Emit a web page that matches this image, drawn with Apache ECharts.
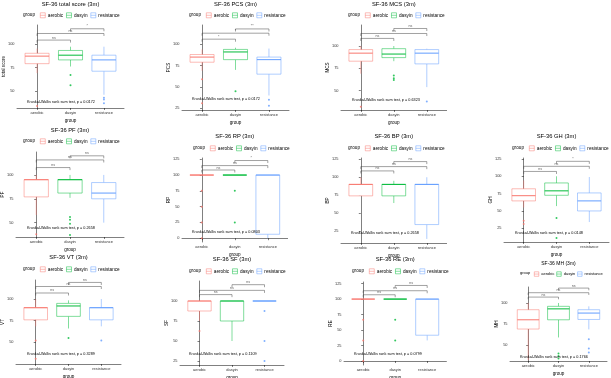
<!DOCTYPE html>
<html>
<head>
<meta charset="utf-8">
<script src="https://cdn.jsdelivr.net/npm/echarts@6/dist/echarts.min.js"></script>
<style>
html, body { margin: 0; padding: 0; background: #fff; }
#chart { width: 611px; height: 378px; }
</style>
</head>
<body>
<div id="chart"></div>
<script>
const groups = ['aerobic', 'dasyin', 'resistance'];
const groupColors = ['#F8766D', '#00BA38', '#619CFF'];
const titles = ['SF-36 total score (3m)', 'SF-36 PCS (3m)', 'SF-36 MCS (3m)',
  'SF-36 PF (3m)', 'SF-36 RP (3m)', 'SF-36 BP (3m)', 'SF-36 GH (3m)',
  'SF-36 VT (3m)', 'SF-36 SF (3m)', 'SF-36 RE (3m)', 'SF-36 MH (3m)'];
const yNames = ['total score', 'PCS', 'MCS', 'PF', 'RP', 'BP', 'GH', 'VT', 'SF', 'RE', 'MH'];
const pValues = ['0.0172', '0.0172', '0.6323', '0.2658', '0.0803', '0.2658', '0.0148', '0.3289', '0.1109', '0.0799', '0.1766'];

// box = [min, Q1, median, Q3, max] per group; out = [group, value]; brk = [from, to, y, label]
const boxTotal = [[69, 79, 87, 90, 95], [76, 83, 88, 93, 97], [46, 71, 83, 88, 97]];
const outTotal = [[0, 34], [1, 67], [1, 56], [2, 43], [2, 41], [2, 37]];
const brkTotal = [[0, 1, 104, 'ns'], [0, 2, 111, 'ns'], [1, 2, 116, '*']];
const ticksTotal = [50, 75, 100];
const rangeTotal = [32, 120];

const boxPCS = [[69, 79, 85, 88, 94], [70, 82, 91, 94, 96], [40, 65, 82, 85, 95]];
const outPCS = [[0, 59], [0, 31], [1, 45], [2, 35], [2, 28]];
const brkPCS = [[0, 1, 106, '*'], [0, 2, 113, '*'], [1, 2, 118, '**']];
const ticksPCS = [25, 50, 75, 100];
const rangePCS = [23, 122.6];

const boxMCS = [[69, 83, 92, 96, 100], [83, 87, 91, 97, 100], [54, 80, 92, 96, 97]];
const outMCS = [[0, 32], [1, 67], [1, 64], [1, 62], [2, 38]];
const brkMCS = [[0, 1, 108.5, 'ns'], [0, 2, 114, 'ns'], [1, 2, 119.6, 'ns']];
const ticksMCS = [50, 75, 100];
const rangeMCS = [28.4, 123.5];

const boxPF = [[58, 77, 95, 95, 100], [76, 81, 95, 95, 100], [50, 75, 81, 92, 100]];
const outPF = [[0, 38], [1, 56], [1, 53], [1, 49], [1, 37]];
const brkPF = [[0, 1, 107.7, 'ns'], [0, 2, 115.7, 'ns'], [1, 2, 120, 'ns']];
const ticksPF = [50, 75, 100];
const rangePF = [35, 124];

const boxRP = [[100, 100, 100, 100, 100], [100, 100, 100, 100, 100], [0, 6.25, 100, 100, 100]];
const outRP = [[0, 75], [0, 50], [0, 25], [0, 0], [1, 75], [1, 25]];
const brkRP = [[0, 1, 108, 'ns'], [0, 2, 115, 'ns'], [1, 2, 123, '*']];
const ticksRP = [0, 25, 50, 75, 100, 125];
const rangeRP = [-6, 127];

const boxBP = [[74, 74, 90, 90, 100], [64, 74, 90, 90, 95], [14, 34, 90, 90, 100]];
const outBP = [];
const brkBP = [[0, 1, 108.8, 'ns'], [0, 2, 114.8, 'ns'], [1, 2, 121.8, 'ns']];
const ticksBP = [25, 50, 75, 100, 125];
const rangeBP = [8.3, 126.8];

const boxGH = [[55, 64.5, 72, 82, 94], [57, 72.6, 79, 90.4, 100], [34, 50, 64.5, 76, 99]];
const outGH = [[0, 36], [0, 31], [1, 40], [1, 11]];
const brkGH = [[0, 1, 107, 'ns'], [0, 2, 114.4, 'ns'], [1, 2, 121.6, '*']];
const ticksGH = [25, 50, 75, 100, 125];
const rangeGH = [5.2, 126.4];

const boxVT = [[68.5, 76, 90, 90, 100], [66, 80, 92, 95, 98.5], [68.5, 76, 90, 90, 100]];
const outVT = [[0, 52], [0, 31], [1, 55], [2, 52]];
const brkVT = [[0, 1, 107, 'ns'], [0, 2, 114.5, 'ns'], [1, 2, 119.2, 'ns']];
const ticksVT = [50, 75, 100];
const rangeVT = [25, 122];

const boxSF = [[75, 87.5, 100, 100, 100], [50, 75, 100, 100, 100], [100, 100, 100, 100, 100]];
const outSF = [[0, 62.5], [2, 87.5], [2, 50], [2, 25]];
const brkSF = [[0, 1, 108, 'ns'], [0, 2, 113.3, 'ns'], [1, 2, 120.4, 'ns']];
const ticksSF = [25, 50, 75, 100];
const rangeSF = [20, 125];

const boxRE = [[100, 100, 100, 100, 100], [100, 100, 100, 100, 100], [33.33, 41.67, 100, 100, 100]];
const outRE = [[0, 66.67], [0, 33.33], [0, 0], [1, 66.67], [1, 33.33]];
const brkRE = [[0, 1, 107, 'ns'], [0, 2, 113.5, 'ns'], [1, 2, 122, 'ns']];
const ticksRE = [0, 25, 50, 75, 100, 125];
const rangeRE = [-6.4, 127.6];

const boxMH = [[32, 69, 80, 92, 100], [59, 80, 93, 96, 100], [68.6, 80.4, 88, 92, 96]];
const outMH = [[1, 40], [1, 37], [1, 34], [2, 57], [2, 46], [2, 41]];
const brkMH = [[0, 1, 107, 'ns'], [0, 2, 112.2, 'ns'], [1, 2, 117.7, 'ns']];
const ticksMH = [50, 75, 100];
const rangeMH = [31, 119];

const panels = [
  [boxTotal, outTotal, brkTotal, ticksTotal, rangeTotal],
  [boxPCS, outPCS, brkPCS, ticksPCS, rangePCS],
  [boxMCS, outMCS, brkMCS, ticksMCS, rangeMCS],
  [boxPF, outPF, brkPF, ticksPF, rangePF],
  [boxRP, outRP, brkRP, ticksRP, rangeRP],
  [boxBP, outBP, brkBP, ticksBP, rangeBP],
  [boxGH, outGH, brkGH, ticksGH, rangeGH],
  [boxVT, outVT, brkVT, ticksVT, rangeVT],
  [boxSF, outSF, brkSF, ticksSF, rangeSF],
  [boxRE, outRE, brkRE, ticksRE, rangeRE],
  [boxMH, outMH, brkMH, ticksMH, rangeMH]
];

// layout: plot box [left, top, width, height] and text anchors
const gridBoxes = [
  [17, 25, 107, 83], [182, 25, 107, 85], [341, 25, 105.6, 85],
  [16, 152, 108, 85], [182, 158, 105.6, 84], [341, 158, 105.6, 85], [504, 158, 105, 84],
  [16, 280, 105, 84], [180, 281, 104, 84], [344, 282, 102.4, 83], [510, 287, 97, 74]
];
const titleY = [4, 4, 4, 130, 136, 136, 136, 257, 259, 259, 264];
const legendY = [15, 15, 15, 141, 148, 148, 148, 269, 271, 271, 274];
const groupX = [23, 189, 348, 23, 193, 348, 512, 23, 189, 352, 520];
const kwPos = [[27, 102], [192, 99], [352, 100], [27, 228], [192, 232], [351, 233], [515, 233],
  [27, 354], [189, 354], [354, 354], [520, 357]];

const font = 'Liberation Sans, Arial, sans-serif';
const chart = echarts.init(document.getElementById('chart'));

function renderBox(params, api) {
  const x = api.value(0);
  const c = groupColors[x];
  const pMin = api.coord([x, api.value(1)]);
  const pQ1 = api.coord([x, api.value(2)]);
  const pMed = api.coord([x, api.value(3)]);
  const pQ3 = api.coord([x, api.value(4)]);
  const pMax = api.coord([x, api.value(5)]);
  const hw = api.size([0.72, 0])[0] / 2;
  return {
    type: 'group',
    children: [
      { type: 'line', shape: { x1: pMin[0], y1: pMin[1], x2: pQ1[0], y2: pQ1[1] }, style: { stroke: c, lineWidth: 0.5 } },
      { type: 'line', shape: { x1: pQ3[0], y1: pQ3[1], x2: pMax[0], y2: pMax[1] }, style: { stroke: c, lineWidth: 0.5 } },
      { type: 'rect', shape: { x: pQ3[0] - hw, y: pQ3[1], width: 2 * hw, height: pQ1[1] - pQ3[1] },
        style: { stroke: c, fill: '#fff', lineWidth: 0.5 } },
      { type: 'line', shape: { x1: pMed[0] - hw, y1: pMed[1], x2: pMed[0] + hw, y2: pMed[1] }, style: { stroke: c, lineWidth: 1 } }
    ]
  };
}

const option = {
  animation: false,
  backgroundColor: '#fff',
  title: [], legend: [], grid: [], xAxis: [], yAxis: [], series: []
};

// legend-only series
groups.forEach((g, i) => {
  option.series.push({
    type: 'scatter', name: g, data: [], xAxisIndex: 0, yAxisIndex: 0,
    itemStyle: { color: '#fff', borderColor: groupColors[i], borderWidth: 0.6 }
  });
});

panels.forEach((p, k) => {
  const [box, out, brk, ticks, range] = p;
  const gb = gridBoxes[k];
  const small = k === 10;
  option.grid.push({ left: gb[0], top: gb[1], width: gb[2], height: gb[3], outerBoundsMode: 'none' });
  option.xAxis.push({
    type: 'value', gridIndex: k, min: -0.6, max: 2.6,
    name: 'group', nameLocation: 'middle', nameGap: 10, nameMoveOverlap: false,
    nameTextStyle: { fontSize: 4.6, color: '#000', fontFamily: font },
    axisLine: { lineStyle: { color: '#000', width: 0.5 } },
    axisTick: { customValues: [0, 1, 2], length: 2, lineStyle: { color: '#000', width: 0.5 } },
    axisLabel: { customValues: [0, 1, 2], formatter: v => groups[v], fontSize: 4, margin: 2.5, color: '#333', fontFamily: font },
    splitLine: { show: false }
  });
  option.yAxis.push({
    type: 'value', gridIndex: k, min: range[0], max: range[1],
    name: yNames[k], nameLocation: 'middle', nameGap: 11, nameRotate: 90, nameMoveOverlap: false,
    nameTextStyle: { fontSize: 4.6, color: '#000', fontFamily: font },
    axisLine: { show: true, lineStyle: { color: '#000', width: 0.5 } },
    axisTick: { show: true, customValues: ticks, length: 2, lineStyle: { color: '#000', width: 0.5 } },
    axisLabel: { customValues: ticks, fontSize: 3.9, margin: 2.5, color: '#333', fontFamily: font },
    splitLine: { show: false }
  });
  option.series.push({
    type: 'custom', xAxisIndex: k, yAxisIndex: k, renderItem: renderBox,
    encode: { x: 0, y: [1, 2, 3, 4, 5] },
    data: box.map((b, i) => [i].concat(b)), silent: true
  });
  option.series.push({
    type: 'scatter', xAxisIndex: k, yAxisIndex: k, symbolSize: 2, silent: true,
    data: out.map(o => ({ value: o, itemStyle: { color: groupColors[o[0]] } }))
  });
  const tip = 0.03 * (range[1] - range[0]);
  brk.forEach(b => {
    option.series.push({
      type: 'line', xAxisIndex: k, yAxisIndex: k, symbol: 'none', silent: true,
      lineStyle: { color: '#444', width: 0.5 },
      data: [[b[0], b[2] - tip], [b[0], b[2]], [b[1], b[2]], [b[1], b[2] - tip]]
    });
  });
  option.series.push({
    type: 'scatter', xAxisIndex: k, yAxisIndex: k, symbolSize: 0, silent: true,
    data: brk.map(b => ({ value: [(b[0] + b[1]) / 2, b[2]], name: b[3] })),
    label: { show: true, position: 'top', distance: 0.5, formatter: '{b}', fontSize: 3.6, color: '#333', fontFamily: font }
  });
  const cx = gb[0] + gb[2] / 2;
  option.title.push({
    text: titles[k], left: cx, top: titleY[k] - 3, textAlign: 'center', padding: 0,
    textStyle: { fontSize: small ? 5 : 5.8, fontWeight: 'normal', color: '#000', fontFamily: font }
  });
  option.title.push({
    text: 'group', left: groupX[k], top: legendY[k] - 2.7, padding: 0,
    textStyle: { fontSize: small ? 4 : 4.7, fontWeight: 'normal', color: '#000', fontFamily: font }
  });
  option.title.push({
    text: 'Kruskal-Wallis rank sum test, p = ' + pValues[k], left: kwPos[k][0], top: kwPos[k][1] - 2, padding: 0,
    textStyle: { fontSize: 3.8, fontWeight: 'normal', color: '#000', fontFamily: font }
  });
  option.legend.push({
    data: groups, left: groupX[k] + (small ? 14 : 17), top: legendY[k] - 2.5, width: 150,
    padding: 0, orient: 'horizontal',
    itemWidth: small ? 4.5 : 5, itemHeight: small ? 4.5 : 5, itemGap: small ? 2 : 3, selectedMode: false,
    icon: 'path://M0,0H10V10H0ZM0,5H10',
    itemStyle: { borderWidth: 0.6 },
    textStyle: { fontSize: small ? 4 : 4.7, color: '#000', fontFamily: font, padding: [0, 0, 0, -2.5] }
  });
});

chart.setOption(option);
</script>
</body>
</html>
